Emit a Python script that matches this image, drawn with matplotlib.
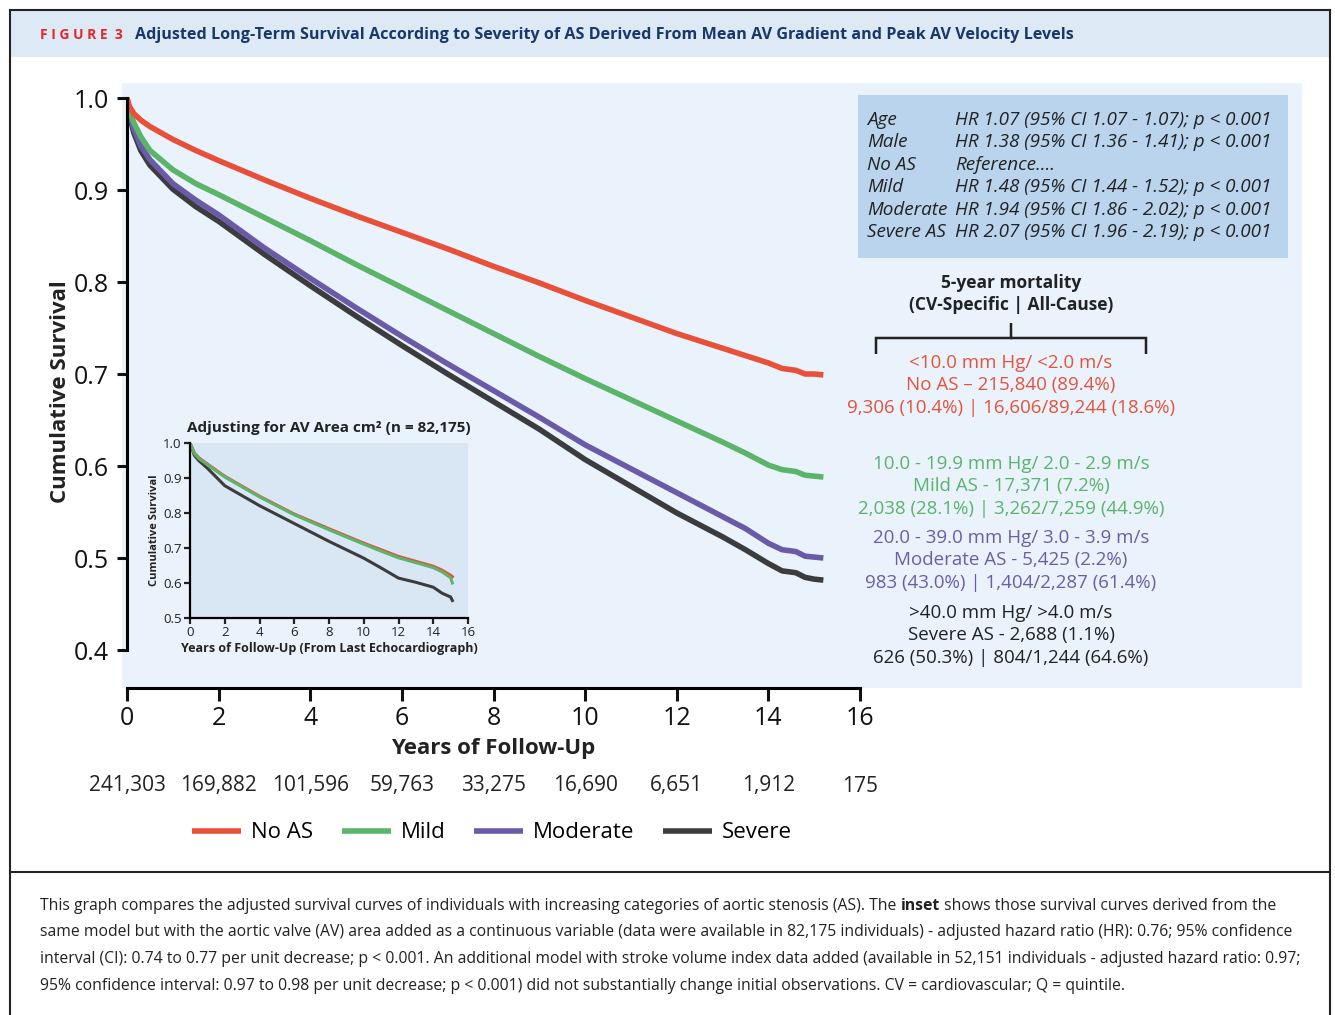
import numpy as np
import matplotlib
matplotlib.use("Agg")
import matplotlib.pyplot as plt
from matplotlib.patches import Rectangle, PathPatch
from matplotlib.path import Path

plt.rcParams['font.family'] = ['Open Sans', 'DejaVu Sans']

# DATOS

# Curvas principales: supervivencia acumulada ajustada
anios = [0, 0.05, 0.15, 0.3, 0.5, 1, 1.5, 2, 3, 4, 5, 6, 7, 8, 9, 10, 11, 12,
         13, 13.5, 14, 14.3, 14.6, 14.8, 15.0, 15.2]
sin_ea = [1.0, 0.991, 0.983, 0.976, 0.969, 0.955, 0.943, 0.932, 0.911, 0.891,
          0.872, 0.854, 0.836, 0.817, 0.799, 0.780, 0.762, 0.744, 0.728,
          0.720, 0.712, 0.706, 0.704, 0.700, 0.700, 0.699]
leve = [1.0, 0.987, 0.973, 0.958, 0.943, 0.922, 0.907, 0.895, 0.870, 0.845,
        0.819, 0.794, 0.769, 0.744, 0.719, 0.695, 0.672, 0.649, 0.626,
        0.614, 0.601, 0.596, 0.594, 0.590, 0.589, 0.588]
moderada = [1.0, 0.984, 0.966, 0.948, 0.933, 0.907, 0.889, 0.873, 0.837,
            0.804, 0.772, 0.741, 0.711, 0.682, 0.653, 0.623, 0.597, 0.571,
            0.545, 0.532, 0.516, 0.509, 0.507, 0.502, 0.501, 0.500]
severa = [1.0, 0.982, 0.962, 0.943, 0.927, 0.901, 0.882, 0.866, 0.830, 0.796,
          0.763, 0.731, 0.700, 0.670, 0.640, 0.607, 0.578, 0.549, 0.523,
          0.509, 0.494, 0.486, 0.484, 0.479, 0.477, 0.476]

# Recuadro: ajustado por área valvular
anios_in = [0, 0.25, 0.5, 1, 2, 4, 6, 8, 10, 11, 12, 13, 14, 14.5, 15, 15.1]
sin_ea_in = [1.0, 0.972, 0.958, 0.940, 0.905, 0.848, 0.797, 0.755, 0.714,
             0.695, 0.676, 0.662, 0.648, 0.637, 0.622, 0.618]
leve_in = [1.0, 0.970, 0.956, 0.938, 0.903, 0.846, 0.795, 0.752, 0.711,
           0.691, 0.672, 0.658, 0.644, 0.632, 0.615, 0.600]
severa_in = [1.0, 0.965, 0.950, 0.928, 0.878, 0.821, 0.770, 0.719, 0.671,
             0.643, 0.614, 0.602, 0.588, 0.571, 0.560, 0.550]

# Pacientes en riesgo por año
x_riesgo = [0, 2, 4, 6, 8, 10, 12, 14, 16]
en_riesgo = ["241,303", "169,882", "101,596", "59,763", "33,275", "16,690",
             "6,651", "1,912", "175"]

nombres = ["No AS", "Mild", "Moderate", "Severe"]
colores = ["#e8503a", "#5bb46a", "#6a5aa8", "#3c3c3e"]

hr_var = ["Age", "Male", "No AS", "Mild", "Moderate", "Severe AS"]
hr_txt = ["HR 1.07 (95% CI 1.07 - 1.07); p < 0.001",
          "HR 1.38 (95% CI 1.36 - 1.41); p < 0.001",
          "Reference....",
          "HR 1.48 (95% CI 1.44 - 1.52); p < 0.001",
          "HR 1.94 (95% CI 1.86 - 2.02); p < 0.001",
          "HR 2.07 (95% CI 1.96 - 2.19); p < 0.001"]

grupos = [
    ["<10.0 mm Hg/ <2.0 m/s", "No AS \u2013 215,840 (89.4%)",
     "9,306 (10.4%) | 16,606/89,244 (18.6%)"],
    ["10.0 - 19.9 mm Hg/ 2.0 - 2.9 m/s", "Mild AS - 17,371 (7.2%)",
     "2,038 (28.1%) | 3,262/7,259 (44.9%)"],
    ["20.0 - 39.0 mm Hg/ 3.0 - 3.9 m/s", "Moderate AS - 5,425 (2.2%)",
     "983 (43.0%) | 1,404/2,287 (61.4%)"],
    [">40.0 mm Hg/ >4.0 m/s", "Severe AS - 2,688 (1.1%)",
     "626 (50.3%) | 804/1,244 (64.6%)"],
]
colores_txt = ["#e5533d", "#5ab46b", "#6b5ea8", "#222222"]
y_grupos = [363, 464, 538, 613]

leyenda_pie = [
    ["This graph compares the adjusted survival curves of individuals with increasing categories of aortic stenosis (AS). The ",
     ("inset", "bold"), " shows those survival curves derived from the"],
    ["same model but with the aortic valve (AV) area added as a continuous variable (data were available in 82,175 individuals) - adjusted hazard ratio (HR): 0.76; 95% confidence"],
    ["interval (CI): 0.74 to 0.77 per unit decrease; p < 0.001. An additional model with stroke volume index data added (available in 52,151 individuals - adjusted hazard ratio: 0.97;"],
    ["95% confidence interval: 0.97 to 0.98 per unit decrease; p < 0.001) did not substantially change initial observations. CV = cardiovascular; Q = quintile."],
]

# FIGURA

W, H = 1335, 1015
fig = plt.figure(figsize=(W / 100, H / 100), dpi=100)

# Ejes de fondo en píxeles (y hacia abajo)
bg = fig.add_axes([0, 0, 1, 1])
bg.set_xlim(0, W)
bg.set_ylim(H, 0)
bg.axis('off')

bg.add_patch(Rectangle((11, 11), 1318, 46, color="#dde9f5", lw=0))
bg.add_patch(Rectangle((122, 83), 1180, 605, color="#eaf2fb", lw=0))
bg.add_patch(Rectangle((858, 95), 430, 163, color="#b9d4ec", lw=0))

# marco
bg.plot([10, 1330], [10, 10], color="#222", lw=1.5)
bg.plot([10, 10], [10, H], color="#222", lw=1.5)
bg.plot([1330, 1330], [10, H], color="#222", lw=1.5)
bg.plot([10, 1330], [872, 872], color="#222", lw=1.5)

# título
bg.text(40, 35, "F I G U R E  3", color="#e8262a", fontsize=10,
        fontweight='bold', va='center')
bg.text(135, 35, "Adjusted Long-Term Survival According to Severity of AS Derived From Mean AV Gradient and Peak AV Velocity Levels",
        color="#17386b", fontsize=11.6, fontweight='bold', va='center')

# tabla de HR
for i in range(len(hr_var)):
    y = 120 + i * 22.4
    bg.text(867, y, hr_var[i], fontsize=13.6, style='italic', color="#222",
            va='center')
    bg.text(955, y, hr_txt[i], fontsize=13.6, style='italic', color="#222",
            va='center')

# mortalidad a 5 años
bg.text(1011, 283, "5-year mortality", fontsize=12.5, fontweight='bold',
        color="#222", ha='center', va='center')
bg.text(1011, 305, "(CV-Specific | All-Cause)", fontsize=12.5,
        fontweight='bold', color="#222", ha='center', va='center')

# llave
xl, xr, xc, yb, yh, yt = 876, 1146, 1011, 354, 338, 323
verts = [(xl, yb), (xl, yh), (xl, yh), (xl + 8, yh),
         (xc - 10, yh), (xc, yh), (xc, yh), (xc, yt),
         (xc, yh), (xc, yh), (xc + 10, yh),
         (xr - 8, yh), (xr, yh), (xr, yh), (xr, yb)]
codes = [Path.MOVETO, Path.LINETO, Path.CURVE3, Path.CURVE3,
         Path.LINETO, Path.CURVE3, Path.CURVE3, Path.LINETO,
         Path.MOVETO, Path.CURVE3, Path.CURVE3,
         Path.LINETO, Path.CURVE3, Path.CURVE3, Path.LINETO]
bg.add_patch(PathPatch(Path(verts, codes), fill=False, color="#222", lw=1.8))

for g in range(len(grupos)):
    for j in range(3):
        bg.text(1011, y_grupos[g] + j * 22.3, grupos[g][j], fontsize=13.5,
                color=colores_txt[g], ha='center', va='center')

# pie de figura
fig.canvas.draw()
rend = fig.canvas.get_renderer()
for i, linea in enumerate(leyenda_pie):
    x = 40
    y = 906 + i * 26.5
    for trozo in linea:
        if isinstance(trozo, tuple):
            txt, peso = trozo
        else:
            txt, peso = trozo, 'normal'
        t = bg.text(x, y, txt, fontsize=11.35, fontweight=peso, color="#222",
                    va='center')
        x = t.get_window_extent(renderer=rend).x1

# GRÁFICA PRINCIPAL

y_bot = 0.4 - (688 - 650) / 920
y_top = 1.003
top_px = 98 - (y_top - 1.0) * 920
ax = fig.add_axes([127 / W, 1 - 688 / H, 733 / W, (688 - top_px) / H])
ax.set_facecolor('none')

series = [sin_ea, leve, moderada, severa]
for k in [3, 2, 1, 0]:
    ax.plot(anios, series[k], color=colores[k], lw=4, label=nombres[k],
            solid_capstyle='butt', solid_joinstyle='round')

ax.set_xlim(0, 16)
ax.set_ylim(y_bot, y_top)
ax.set_xticks(range(0, 17, 2))
ax.set_yticks([0.4, 0.5, 0.6, 0.7, 0.8, 0.9, 1.0])
ax.set_yticklabels(["0.4", "0.5", "0.6", "0.7", "0.8", "0.9", "1.0"])
for s in ['top', 'right']:
    ax.spines[s].set_visible(False)
ax.spines['left'].set_bounds(0.4, 1.0)
ax.spines['left'].set_linewidth(2.2)
ax.spines['bottom'].set_linewidth(2.2)
ax.tick_params(axis='both', width=2.2, length=7, labelsize=18,
               colors="#111")
ax.tick_params(axis='x', length=9, pad=4)
ax.tick_params(axis='y', pad=6)
ax.set_xlabel("Years of Follow-Up", fontsize=16, fontweight='bold',
              color="#222", labelpad=5)
ax.set_ylabel("Cumulative Survival", fontsize=16, fontweight='bold',
              color="#222", labelpad=2)

for xr_, n in zip(x_riesgo, en_riesgo):
    bg.text(127 + xr_ * 733 / 16, 786, n, fontsize=15, color="#222",
            ha='center', va='center')

handles, labels = ax.get_legend_handles_labels()
fig.legend(handles[::-1], labels[::-1], loc='center',
           bbox_to_anchor=(492 / W, 1 - 833 / H), ncol=4, frameon=False,
           fontsize=16, handlelength=2.2, handletextpad=0.45,
           columnspacing=1.3)
for l in fig.legends[0].get_lines():
    l.set_linewidth(4)

# RECUADRO

axi = fig.add_axes([190 / W, 1 - 618 / H, 278 / W, 175 / H])
axi.set_facecolor("#d9e7f4")
series_in = [sin_ea_in, leve_in, severa_in]
colores_in = [colores[0], colores[1], colores[3]]
for k in [2, 0, 1]:
    axi.plot(anios_in, series_in[k], color=colores_in[k], lw=2.2)
axi.set_xlim(0, 16)
axi.set_ylim(0.5, 1.0)
axi.set_xticks(range(0, 17, 2))
axi.set_yticks([0.5, 0.6, 0.7, 0.8, 0.9, 1.0])
axi.set_yticklabels(["0.5", "0.6", "0.7", "0.8", "0.9", "1.0"])
for s in ['top', 'right']:
    axi.spines[s].set_visible(False)
axi.spines['left'].set_linewidth(1.6)
axi.spines['bottom'].set_linewidth(1.6)
axi.tick_params(axis='both', width=1.6, length=4, labelsize=9.5,
                colors="#222", pad=2)
axi.set_xlabel("Years of Follow-Up (From Last Echocardiograph)", fontsize=9,
               fontweight='bold', color="#222", labelpad=2)
axi.set_ylabel("Cumulative Survival", fontsize=8, fontweight='bold',
               color="#222", labelpad=2)
axi.set_title("Adjusting for AV Area cm\u00b2 (n = 82,175)", fontsize=11,
              fontweight='bold', color="#222", pad=8)

fig.savefig("out.png", dpi=100)
